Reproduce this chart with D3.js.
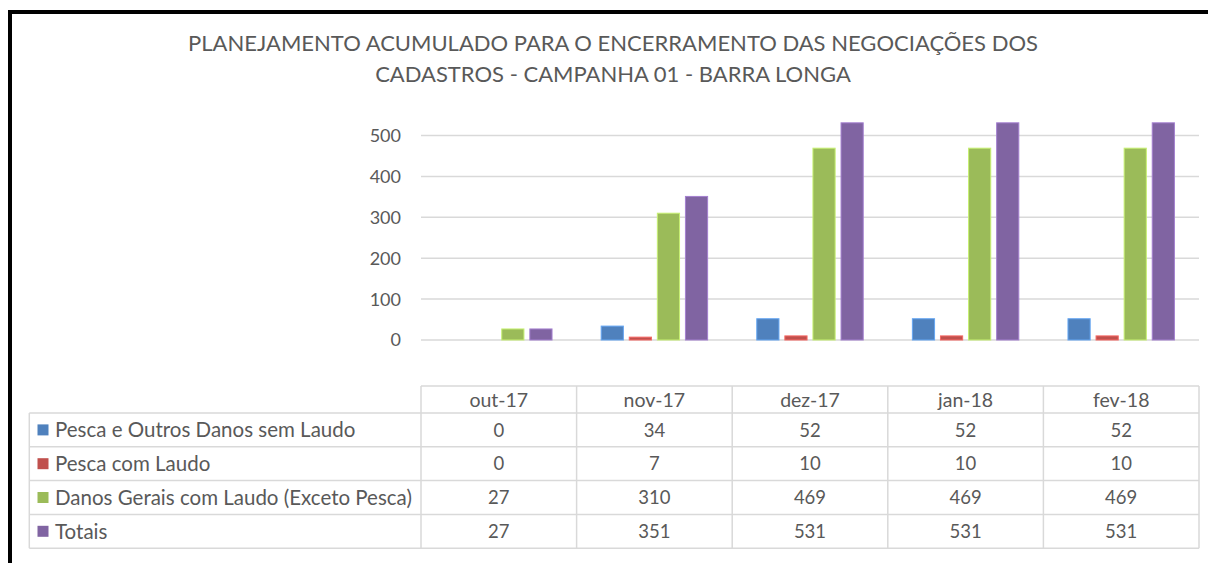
<!DOCTYPE html>
<html>
<head>
<meta charset="utf-8">
<script src="https://cdn.jsdelivr.net/npm/d3@7"></script>
<style>
  body { margin: 0; background: #fff; }
  text { font-family: Lato, "Open Sans", sans-serif; fill: #595959; }
</style>
</head>
<body>
<div id="chart"></div>
<script>
const width = 1208;
const height = 563;

const titleLines = [
  "PLANEJAMENTO ACUMULADO PARA O ENCERRAMENTO DAS NEGOCIAÇÕES DOS",
  "CADASTROS - CAMPANHA 01 - BARRA LONGA"
];

const categories = ["out-17", "nov-17", "dez-17", "jan-18", "fev-18"];

const seriesNames = [
  "Pesca e Outros Danos sem Laudo",
  "Pesca com Laudo",
  "Danos Gerais com Laudo (Exceto Pesca)",
  "Totais"
];

const seriesColors = ["#4F81BD", "#C0504D", "#9BBB59", "#8064A2"];

const pescaSemLaudo = [0, 34, 52, 52, 52];
const pescaComLaudo = [0, 7, 10, 10, 10];
const danosGerais = [27, 310, 469, 469, 469];
const totais = [27, 351, 531, 531, 531];

const tickValues = [0, 100, 200, 300, 400, 500];

const seriesValues = [pescaSemLaudo, pescaComLaudo, danosGerais, totais];

const svg = d3.select("#chart")
  .append("svg")
  .attr("width", width)
  .attr("height", height);

// outer frame (cut off on the right and bottom)
svg.append("rect")
  .attr("x", 10)
  .attr("y", 12)
  .attr("width", 1220)
  .attr("height", 600)
  .attr("fill", "none")
  .attr("stroke", "#000")
  .attr("stroke-width", 4);

svg.append("g")
  .selectAll("text")
  .data(titleLines)
  .join("text")
  .attr("x", 613)
  .attr("y", (d, i) => 51 + i * 31)
  .attr("text-anchor", "middle")
  .attr("font-size", 22)
  .text(d => d);

const x = d3.scaleBand()
  .domain(categories)
  .range([421, 1199]);

const xInner = d3.scaleBand()
  .domain(d3.range(seriesNames.length))
  .range([0, x.bandwidth()])
  .paddingInner(0.21)
  .paddingOuter(0.875);

const y = d3.scaleLinear()
  .domain([0, 500])
  .range([340, 135.5]);

// gridlines + labels
const grid = svg.append("g");
grid.selectAll("line")
  .data(tickValues)
  .join("line")
  .attr("x1", x.range()[0])
  .attr("x2", x.range()[1])
  .attr("y1", d => y(d))
  .attr("y2", d => y(d))
  .attr("stroke", "#d9d9d9")
  .attr("stroke-width", 1.5);

grid.selectAll("text")
  .data(tickValues)
  .join("text")
  .attr("x", 401)
  .attr("y", d => y(d))
  .attr("dy", "0.36em")
  .attr("text-anchor", "end")
  .attr("font-size", 18)
  .text(d => d);

// bars
const barData = [];
seriesValues.forEach((vals, s) => {
  vals.forEach((v, c) => barData.push({s, c, v}));
});

svg.append("g")
  .selectAll("rect")
  .data(barData.filter(d => d.v > 0))
  .join("rect")
  .attr("x", d => x(categories[d.c]) + xInner(d.s))
  .attr("y", d => y(d.v))
  .attr("width", xInner.bandwidth())
  .attr("height", d => y(0) - y(d.v))
  .attr("fill", d => seriesColors[d.s])
  .attr("stroke", d => d3.color(seriesColors[d.s]).brighter(0.7))
  .attr("stroke-width", 1);

// data table
const headerTop = 386;
const headerH = 27;
const rowH = 33.8;
const legendLeft = 29.3;
const tableLeft = x.range()[0];
const tableRight = x.range()[1];
const rowsTop = headerTop + headerH;
const rowsBottom = rowsTop + rowH * seriesNames.length;

const table = svg.append("g")
  .attr("stroke", "#d9d9d9")
  .attr("stroke-width", 1.5);

// horizontal lines
table.append("line")
  .attr("x1", tableLeft).attr("x2", tableRight)
  .attr("y1", headerTop).attr("y2", headerTop);

table.selectAll("line.h")
  .data(d3.range(seriesNames.length + 1))
  .join("line")
  .attr("class", "h")
  .attr("x1", legendLeft).attr("x2", tableRight)
  .attr("y1", i => rowsTop + i * rowH)
  .attr("y2", i => rowsTop + i * rowH);

// vertical lines
table.selectAll("line.v")
  .data(categories.concat(["end"]))
  .join("line")
  .attr("class", "v")
  .attr("x1", (d, i) => i < categories.length ? x(d) : tableRight)
  .attr("x2", (d, i) => i < categories.length ? x(d) : tableRight)
  .attr("y1", headerTop)
  .attr("y2", rowsBottom);

table.append("line")
  .attr("x1", legendLeft).attr("x2", legendLeft)
  .attr("y1", rowsTop).attr("y2", rowsBottom);

// header labels
svg.append("g")
  .selectAll("text")
  .data(categories)
  .join("text")
  .attr("x", d => x(d) + x.bandwidth() / 2)
  .attr("y", headerTop + headerH / 2)
  .attr("dy", "0.36em")
  .attr("text-anchor", "middle")
  .attr("font-size", 19.5)
  .text(d => d);

// row legend
const rows = svg.append("g")
  .selectAll("g")
  .data(seriesNames)
  .join("g")
  .attr("transform", (d, i) => `translate(0,${rowsTop + i * rowH + rowH / 2})`);

rows.append("rect")
  .attr("x", 37.5)
  .attr("y", -5.5)
  .attr("width", 11)
  .attr("height", 11)
  .attr("fill", (d, i) => seriesColors[i]);

rows.append("text")
  .attr("x", 55)
  .attr("dy", "0.36em")
  .attr("font-size", 20.5)
  .text(d => d);

rows.selectAll("text.val")
  .data((d, i) => seriesValues[i].map((v, c) => ({v, c})))
  .join("text")
  .attr("class", "val")
  .attr("x", d => x(categories[d.c]) + x.bandwidth() / 2)
  .attr("dy", "0.36em")
  .attr("text-anchor", "middle")
  .attr("font-size", 18.5)
  .text(d => d.v);
</script>
</body>
</html>
